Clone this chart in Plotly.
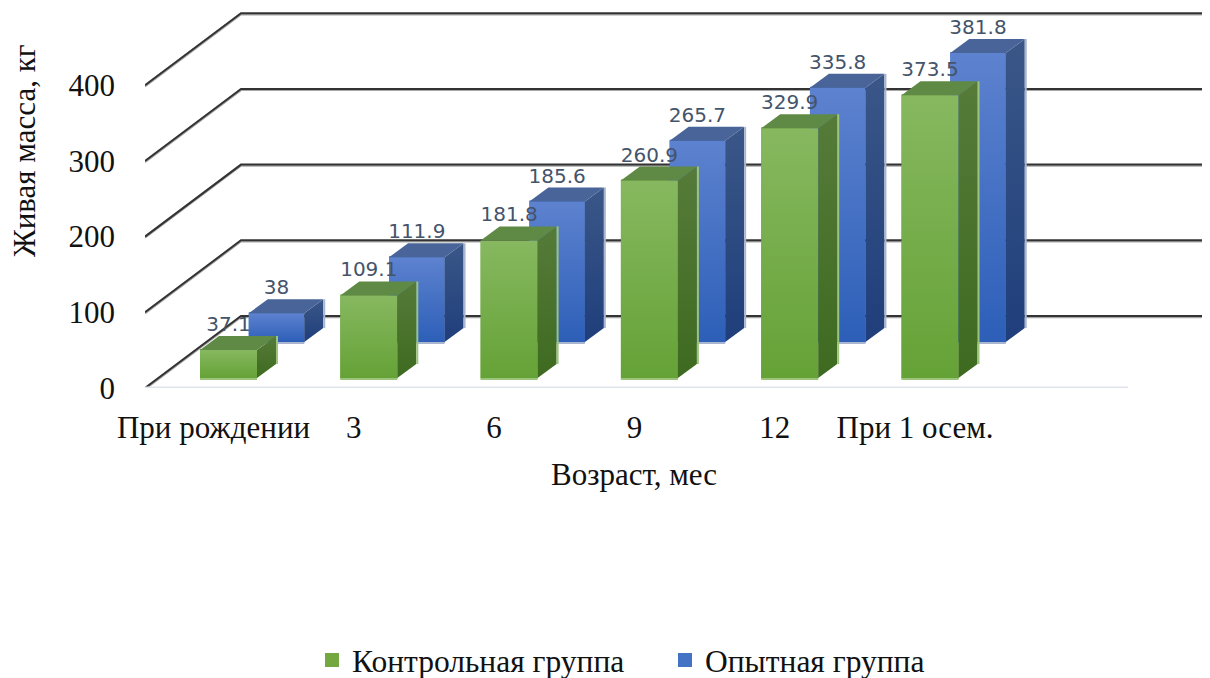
import numpy as np
import plotly.graph_objects as go

categories = ["При рождении", "3", "6", "9", "12", "При 1 осем."]
control = [37.1, 109.1, 181.8, 260.9, 329.9, 373.5]
experiment = [38, 111.9, 185.6, 265.7, 335.8, 381.8]
y_ticks = [0, 100, 200, 300, 400]

BODY = 8                         # default page margin of the written html
W, H = 1202, 670
LEFT, RIGHT_FLOOR, FLOOR = 145, 1128, 388
PXY = 0.757
STEP = 140.3
X0 = 228.5
px = lambda p: p / STEP          # pixels to x units
py = lambda p: p / PXY           # pixels to y units
xpos = np.arange(len(categories))
PLOT_W = W + BODY - LEFT
frac_x = lambda p: (p - LEFT) / PLOT_W
frac_y = lambda p: 1 - (p - BODY) / H

fig = go.Figure()
G_MID, B_MID = "#72a83f", "#4472c4"
fig.add_bar(name="Контрольная группа", x=xpos, y=control, base=[py(10)] * 6,
            width=px(55), marker=dict(color=G_MID, line=dict(width=2, color=G_MID)), hoverinfo="skip")
fig.add_bar(name="Опытная группа", x=xpos + px(48), y=experiment, base=[py(46)] * 6,
            width=px(53.5), marker=dict(color=B_MID, line=dict(width=2, color=B_MID)), hoverinfo="skip")

# walls
gx, gy = [], []
WALL_DX, WALL_DY = px(96), py(72)
x_left = (LEFT - X0) / STEP
x_right = (W + BODY - X0) / STEP
for t in y_ticks:
    gx += [x_left, x_left + WALL_DX, x_right, None]
    gy += [t, t + WALL_DY, t + WALL_DY, None]
fig.add_scatter(x=gx, y=[v - py(1.2) if v is not None else None for v in gy], mode="lines",
                line=dict(color="#a8a8a8", width=2), showlegend=False, hoverinfo="skip")
fig.add_scatter(x=gx, y=gy, mode="lines", line=dict(color="#333333", width=2),
                showlegend=False, hoverinfo="skip")
# floor
fig.add_scatter(x=[x_left, (RIGHT_FLOOR - X0) / STEP], y=[py(0), py(0)], mode="lines",
                line=dict(color="#dfe4ec", width=3), showlegend=False, hoverinfo="skip",
                cliponaxis=False)


def grad(x, y, c1, c2):
    fig.add_scatter(x=x, y=y, mode="lines", fill="toself", line=dict(width=0),
                    fillgradient=dict(type="vertical", colorscale=[[0, c1], [1, c2]]),
                    showlegend=False, hoverinfo="skip")


def draw(vals, x_off, base_off, width, cols, edge):
    dx, dy = px(19), py(14)
    b = py(base_off)
    ex, ey = [], []
    for i, v in enumerate(vals):
        xl = i + px(x_off) - px(width) / 2
        xr = xl + px(width)
        t = b + v
        grad([xl, xr, xr, xl, xl], [b, b, t, t, b], cols[1], cols[0])
        grad([xr, xr + dx, xr + dx, xr, xr], [b, b + dy, t + dy, t, b], cols[3], cols[2])
        fig.add_scatter(x=[xl, xr, xr + dx, xl + dx, xl], y=[t, t, t + dy, t + dy, t], mode="lines",
                        fill="toself", fillcolor=cols[4], line=dict(width=0),
                        showlegend=False, hoverinfo="skip")
        ex += [xl, xr, None, xr + dx + px(1), xr + dx + px(1), None]
        ey += [b - py(1), b - py(1), None, b + dy, t + dy, None]
    fig.add_scatter(x=ex, y=ey, mode="lines", line=dict(color=edge, width=2),
                    showlegend=False, hoverinfo="skip")


draw(experiment, 48, 46, 55.5, ["#5d82cf", "#2d5fb8", "#3b5788", "#1f3e7b", "#486498"], "#aab6cf")
draw(control, 0, 10, 57, ["#87b860", "#65a236", "#567b39", "#3e6a20", "#5f8a45"], "#9cc47c")

LABEL = dict(family="DejaVu Sans", size=20, color="#44546a")
for vals, xo, bo in ((control, 0, 10), (experiment, 48, 46)):
    fig.add_scatter(x=xpos + px(xo), y=np.array(vals) + py(bo) + py(24), mode="text",
                    text=[f"{v:g}" for v in vals], textposition="middle center", textfont=LABEL,
                    showlegend=False, hoverinfo="skip", cliponaxis=False)

PLOT_H = FLOOR - BODY
fig.update_layout(
    width=W, height=H, autosize=False,
    margin=dict(l=LEFT - BODY, r=0, t=0, b=0, pad=0, autoexpand=False),
    plot_bgcolor="white", paper_bgcolor="white",
    barmode="overlay", font=dict(family="Liberation Serif", color="#111111", size=31),
    xaxis=dict(range=[x_left, x_right], domain=[0, 1], showgrid=False, zeroline=False,
               tickmode="array", tickvals=xpos - px(15), ticktext=categories, ticks="",
               showline=False, ticklabelstandoff=18),
    yaxis=dict(range=[0, py(PLOT_H)], domain=[1 - PLOT_H / H, 1], showgrid=False, zeroline=False,
               tickmode="array", tickvals=y_ticks, ticks="", ticklabelstandoff=29, showline=False),
    legend=dict(orientation="h", x=frac_x(312), xanchor="left", y=frac_y(660), yanchor="middle",
                font=dict(size=31.5), entrywidth=308, entrywidthmode="pixels",
                itemclick=False, itemdoubleclick=False),
    annotations=[
        dict(text="Живая масса, кг", xref="paper", yref="paper", x=frac_x(24), y=frac_y(151),
             textangle=-90, showarrow=False, xanchor="center", yanchor="middle", font=dict(size=31)),
        dict(text="Возраст, мес", xref="paper", yref="paper", x=frac_x(634), y=frac_y(474),
             showarrow=False, xanchor="center", yanchor="middle", font=dict(size=31)),
    ],
)
fig.write_html("out.html")
